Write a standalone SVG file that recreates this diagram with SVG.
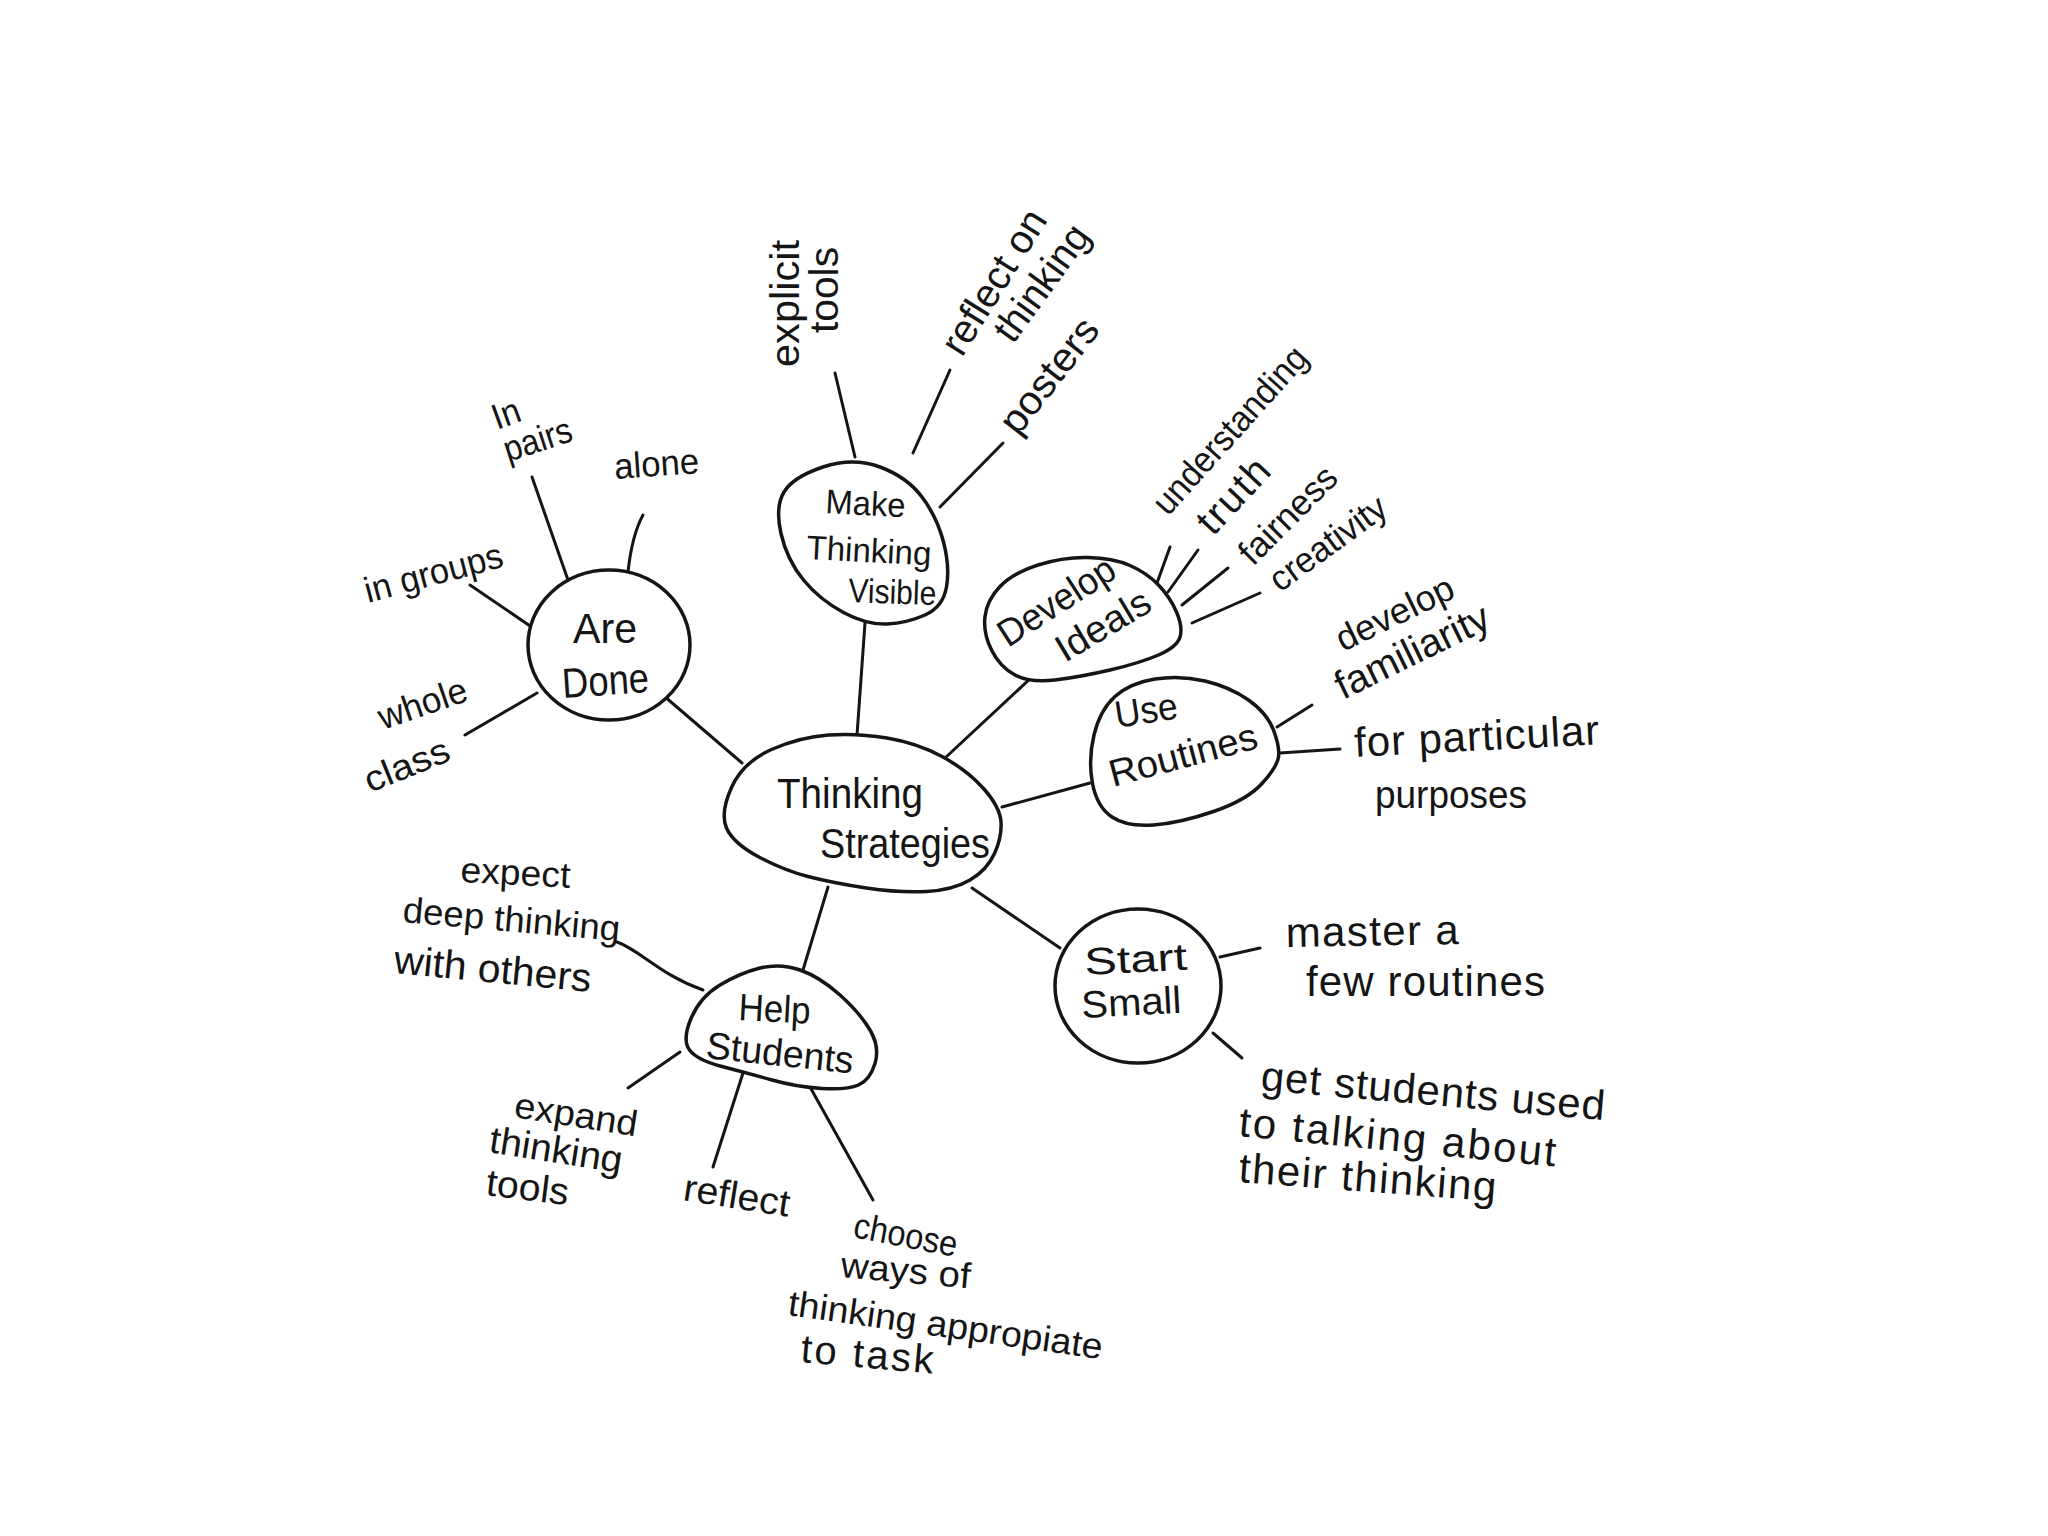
<svg xmlns="http://www.w3.org/2000/svg" width="2048" height="1536" viewBox="0 0 2048 1536">
<style>
.node{fill:#fff;stroke:#151515;stroke-width:3.5;stroke-linejoin:round}
.edge{fill:none;stroke:#151515;stroke-width:3;stroke-linecap:round}
text{font-family:"Liberation Sans","DejaVu Sans",sans-serif;fill:#151515}
.n{font-size:42px}
.m{font-size:38px}
.s{font-size:34px}
.l{font-size:36px}
.b{font-size:40px}
.x{font-size:42px}
</style>
<rect width="2048" height="1536" fill="#fff"/>
<g id="connectors">
<line class="edge" x1="657" y1="690" x2="742" y2="763"/>
<line class="edge" x1="865" y1="623" x2="857" y2="735"/>
<line class="edge" x1="945" y1="758" x2="1047" y2="663"/>
<line class="edge" x1="1002" y1="807" x2="1090" y2="783"/>
<line class="edge" x1="972" y1="888" x2="1060" y2="948"/>
<line class="edge" x1="828" y1="887" x2="803" y2="970"/>
<line class="edge" x1="532" y1="477" x2="568" y2="580"/>
<path class="edge" d="M643,515 Q632,535 628,572"/>
<line class="edge" x1="470" y1="585" x2="533" y2="628"/>
<line class="edge" x1="465" y1="735" x2="537" y2="693"/>
<line class="edge" x1="835" y1="373" x2="855" y2="457"/>
<line class="edge" x1="950" y1="370" x2="913" y2="453"/>
<line class="edge" x1="1003" y1="443" x2="940" y2="507"/>
<line class="edge" x1="1157" y1="583" x2="1170" y2="547"/>
<line class="edge" x1="1168" y1="592" x2="1198" y2="550"/>
<line class="edge" x1="1182" y1="605" x2="1228" y2="568"/>
<line class="edge" x1="1192" y1="623" x2="1260" y2="593"/>
<line class="edge" x1="1277" y1="727" x2="1312" y2="705"/>
<line class="edge" x1="1280" y1="753" x2="1340" y2="749"/>
<line class="edge" x1="1220" y1="957" x2="1260" y2="948"/>
<line class="edge" x1="1213" y1="1033" x2="1242" y2="1058"/>
<path class="edge" d="M617,942 C640,950 660,975 703,990"/>
<line class="edge" x1="680" y1="1052" x2="628" y2="1088"/>
<line class="edge" x1="743" y1="1073" x2="713" y2="1167"/>
<line class="edge" x1="810" y1="1087" x2="873" y2="1200"/>
</g>
<g id="thinking-strategies">
<path class="node" d="M726.5,828 Q720,813 731.5,787.5 Q743,762 771.5,749.5 Q800,737 828.5,735 Q857,733 887,738 Q917,743 942,756.5 Q967,770 983.5,788.5 Q1000,807 1001,822 Q1002,837 994.5,853.5 Q987,870 970,880 Q953,890 926.5,891.5 Q900,893 866.5,888 Q833,883 808,876.5 Q783,870 758,856.5 Q733,843 726.5,828 Z"/>
<text class="n" x="777" y="808" textLength="146" lengthAdjust="spacingAndGlyphs">Thinking</text>
<text class="n" x="820" y="858" textLength="170" lengthAdjust="spacingAndGlyphs">Strategies</text>
</g>
<g id="are-done">
<ellipse class="node" cx="609" cy="645" rx="81" ry="75"/>
<text class="n" x="573" y="643" textLength="64" lengthAdjust="spacingAndGlyphs">Are</text>
<text class="n" x="563" y="698" textLength="87" lengthAdjust="spacingAndGlyphs" transform="rotate(-4 563 698)">Done</text>
</g>
<g id="make-thinking-visible">
<path class="node" d="M781,533.5 Q775,507 784,492 Q793,477 823,467 Q853,457 880,467 Q907,477 922,497 Q937,517 943.5,542 Q950,567 946.5,587 Q943,607 925,615 Q907,623 887,624 Q867,625 843.5,612.5 Q820,600 803.5,580 Q787,560 781,533.5 Z"/>
<text class="s" x="825" y="513" textLength="80" lengthAdjust="spacingAndGlyphs" transform="rotate(3 825 513)">Make</text>
<text class="s" x="806" y="559" textLength="125" lengthAdjust="spacingAndGlyphs" transform="rotate(3 806 559)">Thinking</text>
<text class="s" x="848" y="602" textLength="88" lengthAdjust="spacingAndGlyphs" transform="rotate(2 848 602)">Visible</text>
</g>
<g id="develop-ideals">
<path class="node" d="M985,616.5 Q987,600 1000,586.5 Q1013,573 1038,565 Q1063,557 1088,557.5 Q1113,558 1130,565.5 Q1147,573 1158.5,585 Q1170,597 1176.5,612 Q1183,627 1180,637 Q1177,647 1158.5,655 Q1140,663 1110,670 Q1080,677 1055,680 Q1030,683 1015,675 Q1000,667 991.5,650 Q983,633 985,616.5 Z"/>
<text class="m" x="1008" y="648" textLength="132" lengthAdjust="spacingAndGlyphs" transform="rotate(-33 1008 648)">Develop</text>
<text class="m" x="1065" y="663" textLength="104" lengthAdjust="spacingAndGlyphs" transform="rotate(-31 1065 663)">Ideals</text>
</g>
<g id="use-routines">
<path class="node" d="M1092.5,783.5 Q1088,760 1094,735 Q1100,710 1115,696.5 Q1130,683 1155,679 Q1180,675 1205,681 Q1230,687 1248.5,700 Q1267,713 1273.5,730 Q1280,747 1278.5,757 Q1277,767 1262,783.5 Q1247,800 1213.5,811.5 Q1180,823 1153.5,825 Q1127,827 1112,817 Q1097,807 1092.5,783.5 Z"/>
<text class="m" x="1117" y="728" textLength="63" lengthAdjust="spacingAndGlyphs" transform="rotate(-9 1117 728)">Use</text>
<text class="m" x="1113" y="787" textLength="152" lengthAdjust="spacingAndGlyphs" transform="rotate(-15 1113 787)">Routines</text>
</g>
<g id="start-small">
<ellipse class="node" cx="1138" cy="986" rx="83" ry="77"/>
<text class="m" x="1085" y="975" textLength="103" lengthAdjust="spacingAndGlyphs" transform="rotate(-3 1085 975)">Start</text>
<text class="m" x="1082" y="1018" textLength="100" lengthAdjust="spacingAndGlyphs" transform="rotate(-3 1082 1018)">Small</text>
</g>
<g id="help-students">
<path class="node" d="M689.5,1050 Q682,1040 691,1018.5 Q700,997 720,985 Q740,973 760,968 Q780,963 800,970 Q820,977 840,995 Q860,1013 870,1030 Q880,1047 875,1063.5 Q870,1080 858.5,1085 Q847,1090 822,1088.5 Q797,1087 772,1080 Q747,1073 722,1066.5 Q697,1060 689.5,1050 Z"/>
<text class="m" x="738" y="1020" textLength="72" lengthAdjust="spacingAndGlyphs" transform="rotate(3 738 1020)">Help</text>
<text class="m" x="705" y="1058" textLength="148" lengthAdjust="spacingAndGlyphs" transform="rotate(6 705 1058)">Students</text>
</g>
<g id="leaf-in-pairs">
<text class="l" x="497" y="430" textLength="28" lengthAdjust="spacingAndGlyphs" transform="rotate(-20 497 430)">In</text>
<text class="l" x="508" y="462" textLength="70" lengthAdjust="spacingAndGlyphs" transform="rotate(-18 508 462)">pairs</text>
</g>
<g id="leaf-alone"><text class="l" x="615" y="479" textLength="85" lengthAdjust="spacingAndGlyphs" transform="rotate(-4 615 479)">alone</text></g>
<g id="leaf-in-groups"><text class="l" x="368" y="603" textLength="142" lengthAdjust="spacingAndGlyphs" transform="rotate(-15 368 603)">in groups</text></g>
<g id="leaf-whole-class">
<text class="l" x="383" y="730" textLength="92" lengthAdjust="spacingAndGlyphs" transform="rotate(-19 383 730)">whole</text>
<text class="l" x="370" y="793" textLength="89" lengthAdjust="spacingAndGlyphs" transform="rotate(-22 370 793)">class</text>
</g>
<g id="leaf-explicit-tools">
<text class="b" x="799" y="367" textLength="127" lengthAdjust="spacingAndGlyphs" transform="rotate(-90 799 367)">explicit</text>
<text class="b" x="838" y="333" textLength="86" lengthAdjust="spacingAndGlyphs" transform="rotate(-90 838 333)">tools</text>
</g>
<g id="leaf-reflect-on-thinking">
<text class="b" x="962" y="358" textLength="163" lengthAdjust="spacingAndGlyphs" transform="rotate(-58 962 358)">reflect on</text>
<text class="b" x="1013" y="345" textLength="134" lengthAdjust="spacingAndGlyphs" transform="rotate(-54 1013 345)">thinking</text>
</g>
<g id="leaf-posters"><text class="b" x="1018" y="437" textLength="135" lengthAdjust="spacingAndGlyphs" transform="rotate(-52 1018 437)">posters</text></g>
<g id="leaf-understanding"><text class="l" x="1168" y="517" textLength="212" lengthAdjust="spacingAndGlyphs" transform="rotate(-48 1168 517)">understanding</text></g>
<g id="leaf-truth"><text class="b" x="1213" y="537" textLength="88" lengthAdjust="spacing" transform="rotate(-47 1213 537)">truth</text></g>
<g id="leaf-fairness"><text class="l" x="1253" y="567" textLength="123" lengthAdjust="spacingAndGlyphs" transform="rotate(-45 1253 567)">fairness</text></g>
<g id="leaf-creativity"><text class="l" x="1280" y="593" textLength="136" lengthAdjust="spacingAndGlyphs" transform="rotate(-36 1280 593)">creativity</text></g>
<g id="leaf-develop-familiarity">
<text class="l" x="1343" y="652" textLength="127" lengthAdjust="spacingAndGlyphs" transform="rotate(-26 1343 652)">develop</text>
<text class="b" x="1343" y="700" textLength="167" lengthAdjust="spacingAndGlyphs" transform="rotate(-26 1343 700)">familiarity</text>
</g>
<g id="leaf-for-particular-purposes">
<text class="x" x="1355" y="757" textLength="245" lengthAdjust="spacing" transform="rotate(-3 1355 757)">for particular</text>
<text class="m" x="1375" y="808" textLength="152" lengthAdjust="spacingAndGlyphs">purposes</text>
</g>
<g id="leaf-master-a-few-routines">
<text class="x" x="1286" y="947" textLength="173" lengthAdjust="spacing" transform="rotate(-1 1286 947)">master a</text>
<text class="x" x="1306" y="996" textLength="239" lengthAdjust="spacing">few routines</text>
</g>
<g id="leaf-get-students-used">
<text class="x" x="1260" y="1090" textLength="345" lengthAdjust="spacing" transform="rotate(5 1260 1090)">get students used</text>
<text class="x" x="1238" y="1136" textLength="318" lengthAdjust="spacing" transform="rotate(5.5 1238 1136)">to talking about</text>
<text class="x" x="1238" y="1182" textLength="258" lengthAdjust="spacing" transform="rotate(4.3 1238 1182)">their thinking</text>
</g>
<g id="leaf-expect-deep-thinking">
<text class="l" x="460" y="882" textLength="110" lengthAdjust="spacingAndGlyphs" transform="rotate(3 460 882)">expect</text>
<text class="l" x="402" y="922" textLength="218" lengthAdjust="spacingAndGlyphs" transform="rotate(5 402 922)">deep thinking</text>
<text class="b" x="393" y="973" textLength="198" lengthAdjust="spacingAndGlyphs" transform="rotate(5.5 393 973)">with others</text>
</g>
<g id="leaf-expand-thinking-tools">
<text class="l" x="513" y="1117" textLength="124" lengthAdjust="spacingAndGlyphs" transform="rotate(9 513 1117)">expand</text>
<text class="m" x="488" y="1152" textLength="134" lengthAdjust="spacingAndGlyphs" transform="rotate(9 488 1152)">thinking</text>
<text class="m" x="485" y="1195" textLength="83" lengthAdjust="spacingAndGlyphs" transform="rotate(7 485 1195)">tools</text>
</g>
<g id="leaf-reflect"><text class="m" x="682" y="1200" textLength="107" lengthAdjust="spacingAndGlyphs" transform="rotate(9 682 1200)">reflect</text></g>
<g id="leaf-choose-ways">
<text class="l" x="852" y="1237" textLength="105" lengthAdjust="spacingAndGlyphs" transform="rotate(11 852 1237)">choose</text>
<text class="l" x="840" y="1277" textLength="130" lengthAdjust="spacingAndGlyphs" transform="rotate(5 840 1277)">ways of</text>
<text class="l" x="787" y="1315" textLength="317" lengthAdjust="spacingAndGlyphs" transform="rotate(8 787 1315)">thinking appropiate</text>
<text class="b" x="800" y="1362" textLength="133" lengthAdjust="spacing" transform="rotate(5 800 1362)">to task</text>
</g>
</svg>
